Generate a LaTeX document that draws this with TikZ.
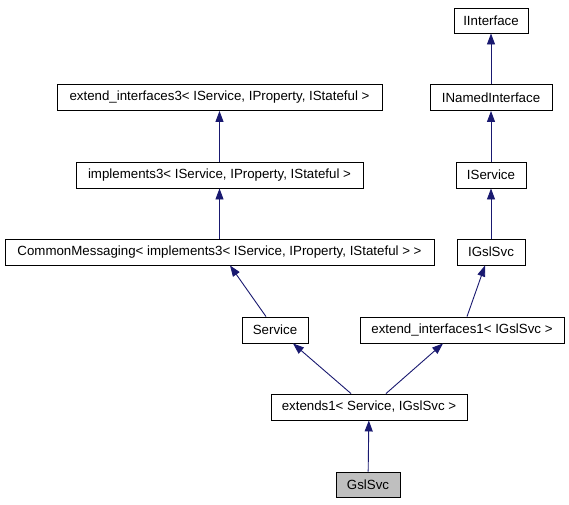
\documentclass[tikz,border=0pt]{standalone}
\usepackage{fontspec}
\setmainfont{Liberation Sans}
\usetikzlibrary{arrows.meta,calc}
\definecolor{edgeblue}{RGB}{25,25,112}
\definecolor{focusgray}{RGB}{191,191,191}
\tikzset{
  cls/.style={draw=black, line width=0.9pt, fill=white, inner sep=0pt, minimum height=26pt,
    font=\fontsize{13.3}{15}\selectfont, anchor=center},
  focus/.style={cls, fill=focusgray},
  inh/.style={draw=edgeblue, line width=0.9pt, -{Triangle[length=11pt,width=8pt]}, edgeblue}
}
\begin{document}
\begin{tikzpicture}[x=1pt,y=-1pt]
\useasboundingbox[fill=white] (0,0) rectangle (569,504);
\node[cls, minimum width=74pt, minimum height=25pt] (iint) at (491,20.5) {IInterface};
\node[cls, minimum width=122pt] (inamed) at (491,97.5) {INamedInterface};
\node[cls, minimum width=325pt] (ext3) at (219.5,97.5) {extend\_interfaces3< IService, IProperty, IStateful >};
\node[cls, minimum width=287pt] (impl3) at (219.5,175) {implements3< IService, IProperty, IStateful >};
\node[cls, minimum width=70pt] (iserv) at (491,175) {IService};
\node[cls, minimum width=429pt] (common) at (219.5,252) {CommonMessaging< implements3< IService, IProperty, IStateful > >};
\node[cls, minimum width=68pt] (igsl) at (491,252) {IGslSvc};
\node[cls, minimum width=66pt] (service) at (275,330) {Service};
\node[cls, minimum width=204pt] (ext1) at (462,330) {extend\_interfaces1< IGslSvc >};
\node[cls, minimum width=196pt] (extends) at (369,407) {extends1< Service, IGslSvc >};
\node[focus, minimum width=64pt, minimum height=25pt] (gsl) at (368,484.5) {GslSvc};

\draw[inh] (inamed) -- (iint);
\draw[inh] (iserv) -- (inamed);
\draw[inh] (igsl) -- (iserv);
\draw[inh] (impl3) -- (ext3);
\draw[inh] (common) -- (impl3);
\draw[inh] ($(service.north)+(-9,0)$) -- ($(common.south)+(10.5,0)$);
\draw[inh] ($(ext1.north)+(5,0)$) -- ($(igsl.south)+(-6,0)$);
\draw[inh] ($(extends.north)+(-18,0)$) -- ($(service.south)+(18,0)$);
\draw[inh] ($(extends.north)+(17,0)$) -- ($(ext1.south)+(-19,0)$);
\draw[inh] (gsl) -- (extends);
\end{tikzpicture}
\end{document}
